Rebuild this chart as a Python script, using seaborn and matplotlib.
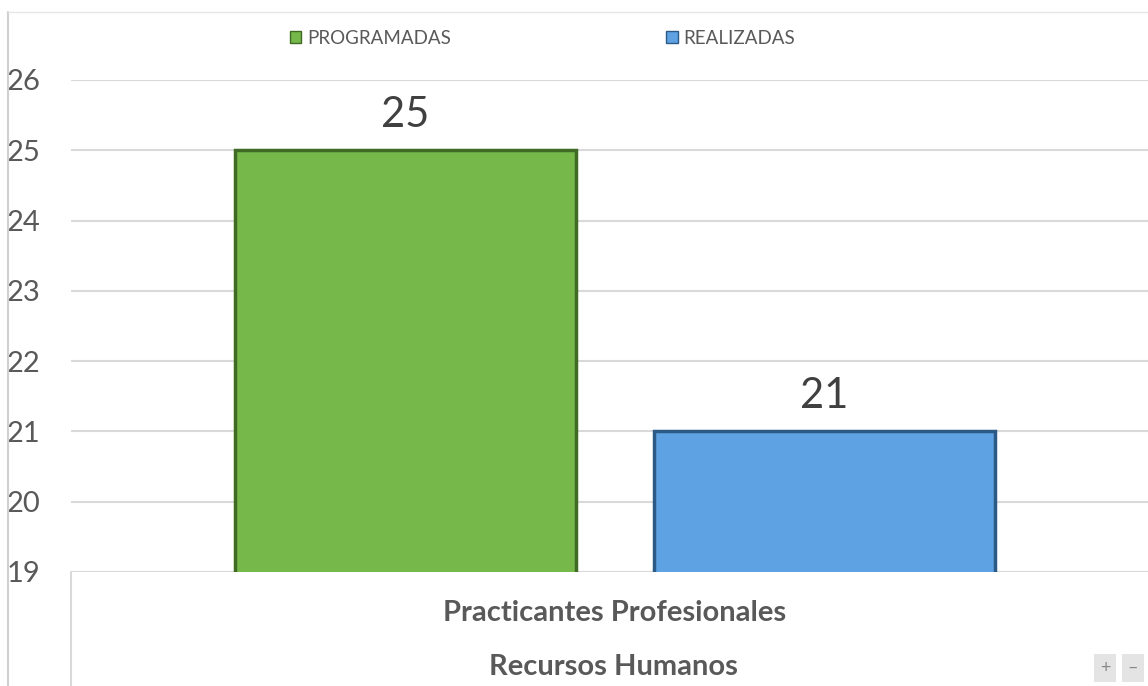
import pandas as pd
import seaborn as sns
from matplotlib import pyplot as plt
from matplotlib.lines import Line2D

# datos
categorias = ["Practicantes Profesionales"]
grupo = "Recursos Humanos"
series = ["PROGRAMADAS", "REALIZADAS"]
valores = [25, 21]
yticks = [19, 20, 21, 22, 23, 24, 25, 26]

df = pd.DataFrame({"categoria": categorias * len(series),
                   "serie": series,
                   "valor": valores})

sns.set_style("white")
plt.rcParams['font.family'] = ['Lato', 'DejaVu Sans']

verde = "#77B84A"
azul = "#5EA2E4"
gris = "#595959"

W, H = 1148, 686
fig = plt.figure(figsize=(W / 100, H / 100), dpi=100)
ax = fig.add_axes([71 / W, 1 - 572 / H, 1 - 71 / W, (572 - 80) / H])

b = sns.barplot(data=df, x="categoria", y="valor", hue="serie",
                palette=[verde, azul], width=0.8, gap=0.186,
                ax=ax, legend=False, saturation=1)

bordes = ["#3F6B24", "#2C5A86"]
for cont, borde in zip(ax.containers, bordes):
    for p in cont:
        p.set_edgecolor(borde)
        p.set_linewidth(2.5)
    ax.bar_label(cont, fontsize=30, color="#404040", padding=12, clip_on=False)

ax.set_ylim(19, 26)
ax.set_xlim(-0.519, 0.509)
ax.set_yticks(yticks)
ax.yaxis.grid(True, color="#D9D9D9", linewidth=1.5)
ax.set_axisbelow(True)
for s in ax.spines.values():
    s.set_visible(False)
ax.tick_params(axis="y", length=0, pad=22, labelsize=21, labelcolor=gris)
ax.tick_params(axis="x", length=0, pad=20, labelsize=21, labelcolor=gris)
for t in ax.get_xticklabels():
    t.set_fontweight("bold")
ax.set_xlabel("")
ax.set_ylabel("")

# linea base y separador del eje de categorias
ax.axhline(19, color="#D9D9D9", linewidth=1.5, zorder=0)
fig.add_artist(Line2D([71 / W, 71 / W], [0, 1 - 572 / H], color="#D9D9D9", linewidth=1.5))
# borde del area del grafico
fig.add_artist(Line2D([8 / W, 8 / W], [0, 1 - 12 / H], color="#D0D0D0", linewidth=1.5))
fig.add_artist(Line2D([8 / W, 1], [1 - 12 / H, 1 - 12 / H], color="#E6E6E6", linewidth=1))

fig.text(613 / W, 1 - 667 / H, grupo, ha="center", va="center",
         fontsize=21, fontweight="bold", color=gris)

handles = [plt.Rectangle((0, 0), 1, 1, facecolor=c, edgecolor=e)
           for c, e in zip([verde, azul], bordes)]
fig.legend(handles, series, loc="center left", bbox_to_anchor=(290 / W, 1 - 38 / H),
           ncol=2, frameon=False, fontsize=13.5, labelcolor=gris,
           handlelength=0.6, handleheight=0.6, handletextpad=0.3,
           columnspacing=11.5, borderpad=0, borderaxespad=0)

fig.text(1105 / W, 1 - 668 / H, "+", ha="center", va="center",
         fontsize=13, color="#888888",
         bbox=dict(facecolor="#E4E4E4", edgecolor="none", pad=4))
fig.text(1133 / W, 1 - 668 / H, "\u2013", ha="center", va="center",
         fontsize=13, color="#888888",
         bbox=dict(facecolor="#E4E4E4", edgecolor="none", pad=4))

fig.savefig("out.png", dpi=100)
